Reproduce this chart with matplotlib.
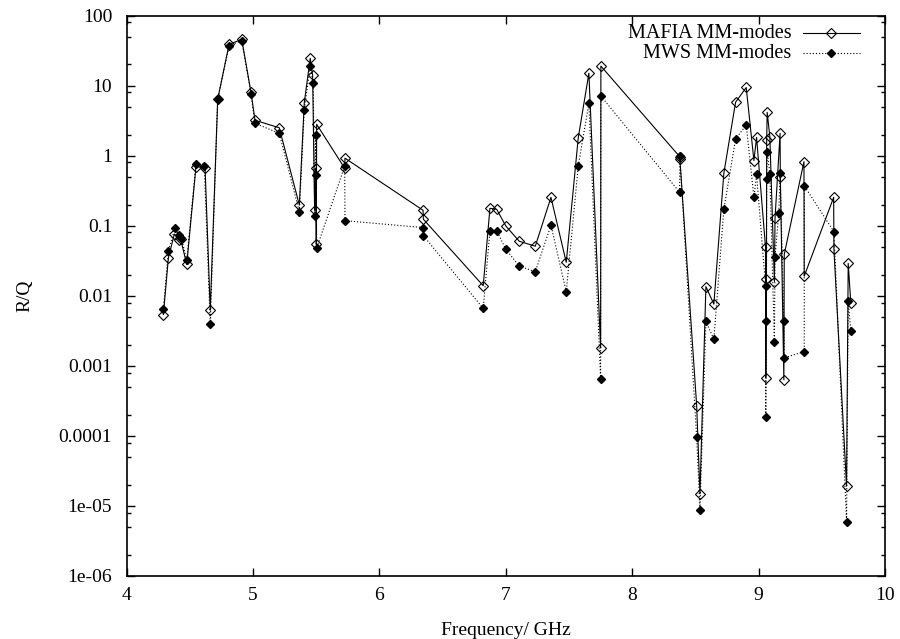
import matplotlib
matplotlib.use("Agg")
import matplotlib.pyplot as plt
from matplotlib.ticker import FixedLocator, NullFormatter

plt.rcParams['font.family'] = ['Liberation Serif', 'DejaVu Serif']

# MAFIA mode-matching results (frequency GHz, R/Q)
mafia_freq = [4.29, 4.33, 4.377, 4.416, 4.427, 4.475, 4.548, 4.62, 4.661, 4.72,
              4.81, 4.91, 4.983, 5.015, 5.207, 5.366, 5.405, 5.452, 5.471, 5.487,
              5.495, 5.500, 5.503, 5.725, 5.727, 6.345, 6.347, 6.821, 6.874, 6.927,
              7.0, 7.106, 7.233, 7.357, 7.478, 7.573, 7.657, 7.750, 7.752, 8.375,
              8.377, 8.51, 8.536, 8.583, 8.646, 8.725, 8.818, 8.902, 8.963, 8.984,
              9.055, 9.057, 9.062, 9.064, 9.068, 9.089, 9.125, 9.130, 9.170, 9.172,
              9.200, 9.203, 9.359, 9.361, 9.594, 9.596, 9.696, 9.709, 9.73]
mafia_rq = [0.0054, 0.035, 0.076, 0.0625, 0.064, 0.028, 0.695, 0.67, 0.0062, 6.4,
            38.8, 45.7, 8.1, 3.2, 2.5, 0.197, 5.7, 24.5, 14.2, 0.166,
            0.665, 0.054, 2.8, 0.66, 0.92, 0.166, 0.124, 0.0139, 0.177, 0.172,
            0.099, 0.060, 0.051, 0.254, 0.030, 1.8, 15.0, 0.0018, 19.0, 0.97,
            0.90, 0.00027, 1.49e-5, 0.0135, 0.0076, 0.56, 5.8, 9.4, 0.85, 1.82,
            0.049, 0.00068, 0.0172, 1.67, 4.15, 1.86, 0.0159, 0.127, 2.08, 0.50,
            0.00063, 0.039, 0.82, 0.019, 0.254, 0.046, 1.92e-5, 0.029, 0.0078]

# MWS mode-matching results
mws_freq = [4.29, 4.33, 4.382, 4.416, 4.432, 4.475, 4.548, 4.614, 4.661, 4.72,
            4.81, 4.91, 4.983, 5.015, 5.207, 5.366, 5.405, 5.452, 5.476, 5.487,
            5.495, 5.500, 5.503, 5.725, 5.727, 6.345, 6.347, 6.821, 6.874, 6.927,
            7.0, 7.106, 7.233, 7.357, 7.478, 7.573, 7.657, 7.750, 7.752, 8.375,
            8.377, 8.51, 8.536, 8.583, 8.646, 8.725, 8.818, 8.902, 8.963, 8.984,
            9.055, 9.057, 9.062, 9.064, 9.068, 9.089, 9.125, 9.130, 9.160, 9.170,
            9.200, 9.203, 9.361, 9.362, 9.596, 9.696, 9.709, 9.73]
mws_rq = [0.0065, 0.044, 0.092, 0.073, 0.067, 0.032, 0.75, 0.70, 0.0039, 6.4,
          37.0, 44.0, 7.7, 2.9, 2.08, 0.158, 4.5, 19.0, 10.8, 0.139,
          2.0, 0.53, 0.0475, 0.71, 0.118, 0.094, 0.072, 0.0066, 0.085, 0.085,
          0.046, 0.0266, 0.022, 0.102, 0.0114, 0.71, 5.6, 0.00065, 7.1, 0.30,
          0.98, 9.5e-5, 8.7e-6, 0.0043, 0.0024, 0.171, 1.73, 2.74, 0.254, 0.54,
          0.0138, 0.000187, 0.0044, 0.46, 1.14, 0.55, 0.0022, 0.036, 0.153, 0.56,
          0.0044, 0.0013, 0.0016, 0.37, 0.082, 5.96e-6, 0.0084, 0.0031]

y_ticks = [1e-6, 1e-5, 1e-4, 1e-3, 1e-2, 1e-1, 1, 10, 100]
y_labels = ['1e-06', '1e-05', '0.0001', '0.001', '0.01', '0.1', '1', '10', '100']
x_ticks = [4, 5, 6, 7, 8, 9, 10]

mafia_style = dict(color='black', lw=0.8, marker='D', ms=5, mfc='none',
                   mec='black', mew=0.8, linestyle='-')
mws_style = dict(color='black', lw=0.8, marker='D', ms=4.5, mfc='black',
                 mec='black', linestyle=(0, (1, 1.8)))

fig = plt.figure(figsize=(9, 6.39), dpi=100)
ax = fig.add_axes([0.1408, 0.0986, 0.8425, 0.8771])

ax.plot(mafia_freq, mafia_rq, **mafia_style)
ax.plot(mws_freq, mws_rq, **mws_style)

ax.set_yscale('log')
ax.set_xlim(4, 10)
ax.set_ylim(1e-6, 100)
ax.set_xticks(x_ticks)
ax.set_xticklabels([str(t) for t in x_ticks])
ax.yaxis.set_major_locator(FixedLocator(y_ticks))
ax.set_yticklabels(y_labels)
minors = [m * 10.0 ** e for e in range(-6, 2) for m in (2, 5, 8)]
ax.yaxis.set_minor_locator(FixedLocator(minors))
ax.yaxis.set_minor_formatter(NullFormatter())
ax.xaxis.set_minor_locator(FixedLocator([]))

ax.tick_params(which='both', direction='in', top=True, right=True, labelsize=14, width=1)
ax.tick_params(which='major', length=6)
ax.tick_params(axis='y', which='major', pad=10.5)
ax.tick_params(axis='x', which='major', pad=8)
ax.tick_params(which='minor', length=3)
for s in ax.spines.values():
    s.set_linewidth(1.2)

ax.set_xlabel('Frequency/ GHz', fontsize=14, labelpad=13)
ax.set_ylabel('R/Q', fontsize=14, labelpad=18)

# gnuplot-style key: right-aligned text, sample to its right
key = [('MAFIA MM-modes', mafia_style, 0.9682), ('MWS MM-modes', mws_style, 0.9326)]
for label, style, ky in key:
    ax.text(0.877, ky, label, transform=ax.transAxes, ha='right', va='center', fontsize=14.5)
    ax.plot([0.8915, 0.967], [ky, ky], transform=ax.transAxes, clip_on=False,
            **{k: v for k, v in style.items() if k != 'marker'})
    ax.plot([0.9288], [ky], transform=ax.transAxes, clip_on=False, **style)

fig.savefig('out.png', dpi=100)
